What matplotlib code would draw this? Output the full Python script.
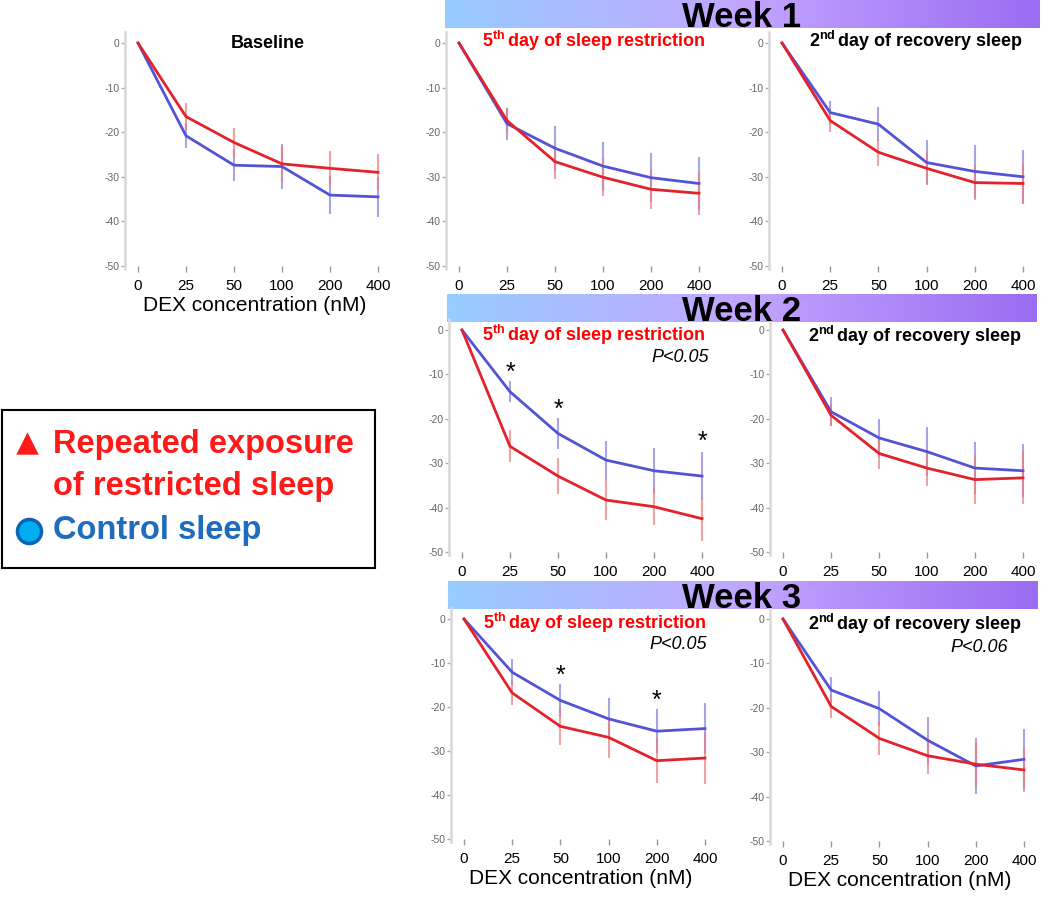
import numpy as np
import matplotlib.pyplot as plt
from matplotlib.colors import LinearSegmentedColormap

plt.rcParams['font.family'] = ['Liberation Sans', 'DejaVu Sans']
plt.rcParams['axes.unicode_minus'] = False
plt.rcParams['mathtext.fontset'] = 'custom'
plt.rcParams['mathtext.rm'] = 'Liberation Sans'
plt.rcParams['mathtext.bf'] = 'Liberation Sans:bold'
plt.rcParams['mathtext.it'] = 'Liberation Sans:italic'

# DEX concentrations (nM), plotted as equally spaced categories
dex = ['0', '25', '50', '100', '200', '400']

# % change (red = repeated restricted sleep, blue = control)
base_red = [0, -16.5, -22.3, -27.1, -28.1, -29.0]
base_red_err = [0, 3.0, 3.2, 4.0, 3.8, 4.0]
base_blue = [0, -20.8, -27.4, -27.7, -34.1, -34.5]
base_blue_err = [0, 2.8, 3.6, 5.0, 4.2, 4.5]

w1_sr_red = [0, -17.4, -26.6, -30.1, -32.8, -33.7]
w1_sr_red_err = [0, 2.8, 3.8, 4.3, 4.5, 4.8]
w1_sr_blue = [0, -18.1, -23.6, -27.6, -30.2, -31.5]
w1_sr_blue_err = [0, 3.6, 5.0, 5.5, 5.5, 6.0]

w1_rec_red = [0, -17.4, -24.5, -28.1, -31.3, -31.5]
w1_rec_red_err = [0, 2.5, 3.0, 3.5, 4.0, 4.3]
w1_rec_blue = [0, -15.6, -18.2, -26.8, -28.8, -30.0]
w1_rec_blue_err = [0, 2.5, 3.8, 5.0, 6.0, 6.0]

w2_sr_red = [0, -26.2, -32.9, -38.3, -39.8, -42.5]
w2_sr_red_err = [0, 3.6, 4.0, 4.5, 4.2, 5.0]
w2_sr_blue = [0, -13.9, -23.3, -29.3, -31.7, -32.9]
w2_sr_blue_err = [0, 2.4, 3.5, 4.4, 5.2, 5.4]

w2_rec_red = [0, -19.2, -27.8, -31.1, -33.7, -33.3]
w2_rec_red_err = [0, 2.5, 3.5, 4.0, 5.5, 6.0]
w2_rec_blue = [0, -18.4, -24.3, -27.4, -31.1, -31.7]
w2_rec_blue_err = [0, 3.2, 4.2, 5.5, 5.8, 6.0]

w3_sr_red = [0, -16.8, -24.4, -26.9, -32.2, -31.6]
w3_sr_red_err = [0, 2.8, 4.3, 4.7, 5.1, 5.8]
w3_sr_blue = [0, -12.1, -18.5, -22.7, -25.5, -24.9]
w3_sr_blue_err = [0, 3.0, 3.7, 4.7, 5.0, 5.7]

w3_rec_red = [0, -19.7, -26.9, -30.8, -32.7, -34.0]
w3_rec_red_err = [0, 2.5, 3.8, 4.0, 5.0, 5.0]
w3_rec_blue = [0, -16.0, -20.2, -27.3, -33.1, -31.6]
w3_rec_blue_err = [0, 3.0, 4.0, 5.3, 6.3, 6.8]

# significance stars: (category index, y of star)
w2_sr_stars = [(1, -9.7), (2, -18.0), (5, -25.2)]
w3_sr_stars = [(2, -12.9), (4, -18.5)]

W, H = 1050, 897
RED = '#e3232b'
BLUE = '#5353d6'
SR_TITLE = r'$\mathbf{5^{th}}\,$day of sleep restriction'
REC_TITLE = r'$\mathbf{2^{nd}}\,$day of recovery sleep'
SUB = 13

fig = plt.figure(figsize=(W / 100, H / 100), dpi=100)


def panel(x0, x5, y0, y50):
    # pixel calibration of category 0 / 5 and value 0 / -50
    xl = (-0.27, 5.12)
    yl = (-50.6, 2.5)
    dx = (x5 - x0) / 5
    dy = (y50 - y0) / 50
    left = x0 + xl[0] * dx
    right = x0 + xl[1] * dx
    top = y0 - yl[1] * dy
    bottom = y0 - yl[0] * dy
    ax = fig.add_axes([left / W, 1 - bottom / H, (right - left) / W, (bottom - top) / H])
    ax.set_facecolor('none')
    ax.set_xlim(*xl)
    ax.set_ylim(*yl)
    for s in ['top', 'right', 'bottom']:
        ax.spines[s].set_visible(False)
    ax.spines['left'].set_color('#d8d8d8')
    ax.spines['left'].set_linewidth(1.8)
    ax.set_yticks([0, -10, -20, -30, -40, -50])
    ax.set_xticks(range(len(dex)))
    ax.set_xticklabels(dex)
    ax.tick_params(axis='y', length=3, width=1, color='#aaaaaa', labelsize=7.5,
                   labelcolor='#666666', pad=1)
    ax.tick_params(axis='x', length=5, width=1, color='#999999', direction='inout',
                   labelsize=11, pad=5)
    return ax


def draw(ax, red, red_err, blue, blue_err):
    x = np.arange(len(dex))
    ax.errorbar(x, blue, yerr=blue_err, fmt='none', ecolor='#8080dd', elinewidth=1.5,
                alpha=0.7, capsize=0)
    ax.errorbar(x, red, yerr=red_err, fmt='none', ecolor='#ee7b7b', elinewidth=1.5,
                alpha=0.7, capsize=0)
    ax.plot(x, blue, color=BLUE, lw=2)
    ax.plot(x, red, color=RED, lw=2)


def banner(x1, x2, y1, y2, label):
    bax = fig.add_axes([x1 / W, 1 - y2 / H, (x2 - x1) / W, (y2 - y1) / H])
    cmap = LinearSegmentedColormap.from_list('wk', ['#98ccff', '#c2a6ff', '#9b6cf2'])
    bax.imshow(np.linspace(0, 1, 256)[None, :], aspect='auto', cmap=cmap)
    bax.axis('off')
    fig.text(742 / W, 1 - (y2 - 1) / H, label, ha='center', va='baseline',
             fontsize=25, weight='bold')


# Baseline
ax = panel(138, 378, 43, 266)
draw(ax, base_red, base_red_err, base_blue, base_blue_err)
ax.text(2.7, 0, 'Baseline', ha='center', va='center', fontsize=SUB, weight='bold')
ax.set_xlabel('DEX concentration (nM)', fontsize=15, labelpad=2)

# Week 1
banner(445, 1040, 0, 28, 'Week 1')
ax = panel(459, 699, 43, 266)
draw(ax, w1_sr_red, w1_sr_red_err, w1_sr_blue, w1_sr_blue_err)
ax.text(2.8, 0.5, SR_TITLE, ha='center', va='center', fontsize=SUB, weight='bold', color='red')
ax = panel(782, 1023, 43, 266)
draw(ax, w1_rec_red, w1_rec_red_err, w1_rec_blue, w1_rec_blue_err)
ax.text(2.78, 0.5, REC_TITLE, ha='center', va='center', fontsize=SUB, weight='bold')

# Week 2
banner(447, 1037, 294, 322, 'Week 2')
ax = panel(462, 702, 330, 552)
draw(ax, w2_sr_red, w2_sr_red_err, w2_sr_blue, w2_sr_blue_err)
ax.text(2.75, -1.1, SR_TITLE, ha='center', va='center', fontsize=SUB, weight='bold', color='red')
ax.text(4.54, -6.1, 'P<0.05', ha='center', va='center', fontsize=13, style='italic')
for i, y in w2_sr_stars:
    ax.text(i, y, '*', ha='center', va='center', fontsize=18)
ax = panel(783, 1023, 330, 552)
draw(ax, w2_rec_red, w2_rec_red_err, w2_rec_blue, w2_rec_blue_err)
ax.text(2.75, -1.3, REC_TITLE, ha='center', va='center', fontsize=SUB, weight='bold')

# Week 3
banner(448, 1038, 581, 609, 'Week 3')
ax = panel(464, 705, 619, 839)
draw(ax, w3_sr_red, w3_sr_red_err, w3_sr_blue, w3_sr_blue_err)
ax.text(2.7, -1.0, SR_TITLE, ha='center', va='center', fontsize=SUB, weight='bold', color='red')
ax.text(4.44, -5.9, 'P<0.05', ha='center', va='center', fontsize=13, style='italic')
for i, y in w3_sr_stars:
    ax.text(i, y, '*', ha='center', va='center', fontsize=18)
ax.set_xlabel('DEX concentration (nM)', fontsize=15, labelpad=2)
ax = panel(783, 1024, 619, 841)
draw(ax, w3_rec_red, w3_rec_red_err, w3_rec_blue, w3_rec_blue_err)
ax.text(2.74, -1.2, REC_TITLE, ha='center', va='center', fontsize=SUB, weight='bold')
ax.text(4.07, -6.5, 'P<0.06', ha='center', va='center', fontsize=13, style='italic')
ax.set_xlabel('DEX concentration (nM)', fontsize=15, labelpad=2)

# legend box
lax = fig.add_axes([2 / W, 1 - 568 / H, 373 / W, 158 / H])
lax.set_xlim(0, 373)
lax.set_ylim(158, 0)
lax.set_xticks([])
lax.set_yticks([])
for s in lax.spines.values():
    s.set_linewidth(1.5)
lax.scatter([25], [33], marker='^', s=260, color='#ff1a1a', linewidths=0)
lax.scatter([27], [121], marker='o', s=300, color='#00aef0', edgecolors='#0b64b4', linewidths=2.5)
lax.text(51, 35, 'Repeated exposure', ha='left', va='center', fontsize=23.5, weight='bold', color='#ff1a1a')
lax.text(51, 77, 'of restricted sleep', ha='left', va='center', fontsize=23.5, weight='bold', color='#ff1a1a')
lax.text(51, 121, 'Control sleep', ha='left', va='center', fontsize=23.5, weight='bold', color='#1f6cbf')

fig.savefig('out.png', dpi=100)
